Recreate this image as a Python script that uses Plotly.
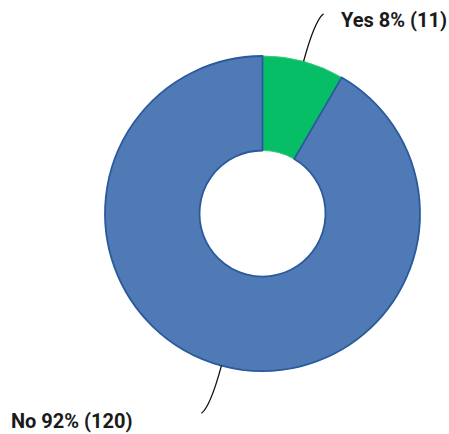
import math
import plotly.graph_objects as go

labels = ["Yes", "No"]
values = [11, 120]
colors = ["#05BE66", "#4F7AB5"]
line_colors = ["#3CCB83", "#2A5A9C"]

W, H = 449, 434
cx, cy, R = 262.5, 213.5, 157.5
hole = 0.40

dom_x = [(cx - R) / W, (cx + R) / W]
dom_y = [1 - (cy + R) / H, 1 - (cy - R) / H]

fig = go.Figure(go.Pie(
    labels=labels, values=values, sort=False, direction="clockwise",
    hole=hole, rotation=0,
    marker=dict(colors=colors, line=dict(color=line_colors, width=[1, 1.8])),
    textinfo="none", hoverinfo="label+value+percent",
    domain=dict(x=dom_x, y=dom_y), showlegend=False,
))

total = sum(values)
font = dict(family="Roboto, Arial, sans-serif", size=20, color="#1a1a1a")

def px2paper(x, y):
    return x / W, 1 - y / H

shapes = []
annotations = []
cum = 0
for i, (lab, v) in enumerate(zip(labels, values)):
    mid = (cum + v / 2) / total * 2 * math.pi
    cum += v
    dx, dy = math.sin(mid), -math.cos(mid)
    sx, sy = cx + R * dx, cy + R * dy
    kx, ky = sx + 42 * dx, sy + 42 * dy
    side = 1 if dx > 0 else -1
    ex, ey = kx + 9 * side, ky + 9 * dy / abs(dy) * 0.8
    p0 = px2paper(sx, sy); p1 = px2paper(kx, ky); p2 = px2paper(ex, ey)
    shapes.append(dict(type="path", xref="paper", yref="paper",
                       path=f"M {p0[0]},{p0[1]} Q {p1[0]},{p1[1]} {p2[0]},{p2[1]}",
                       line=dict(color="#111111", width=1.3)))
    pct = round(v / total * 100)
    txt = f"<b>{lab} {pct}% ({v})</b>"
    if side > 0:
        tx, ty = px2paper(ex + 15, ey + 6)
        annotations.append(dict(x=tx, y=ty, xref="paper", yref="paper", text=txt,
                                showarrow=False, xanchor="left", yanchor="middle", font=font))
    else:
        tx, ty = px2paper(ex - 66, ey + 8)
        annotations.append(dict(x=tx, y=ty, xref="paper", yref="paper", text=txt,
                                showarrow=False, xanchor="right", yanchor="middle", font=font))

fig.update_layout(width=W, height=H, margin=dict(l=0, r=0, t=0, b=0),
                  paper_bgcolor="white", plot_bgcolor="white",
                  shapes=shapes, annotations=annotations)

fig.write_html("out.html", config={"displayModeBar": False},
               post_script="document.body.style.margin='0';")
